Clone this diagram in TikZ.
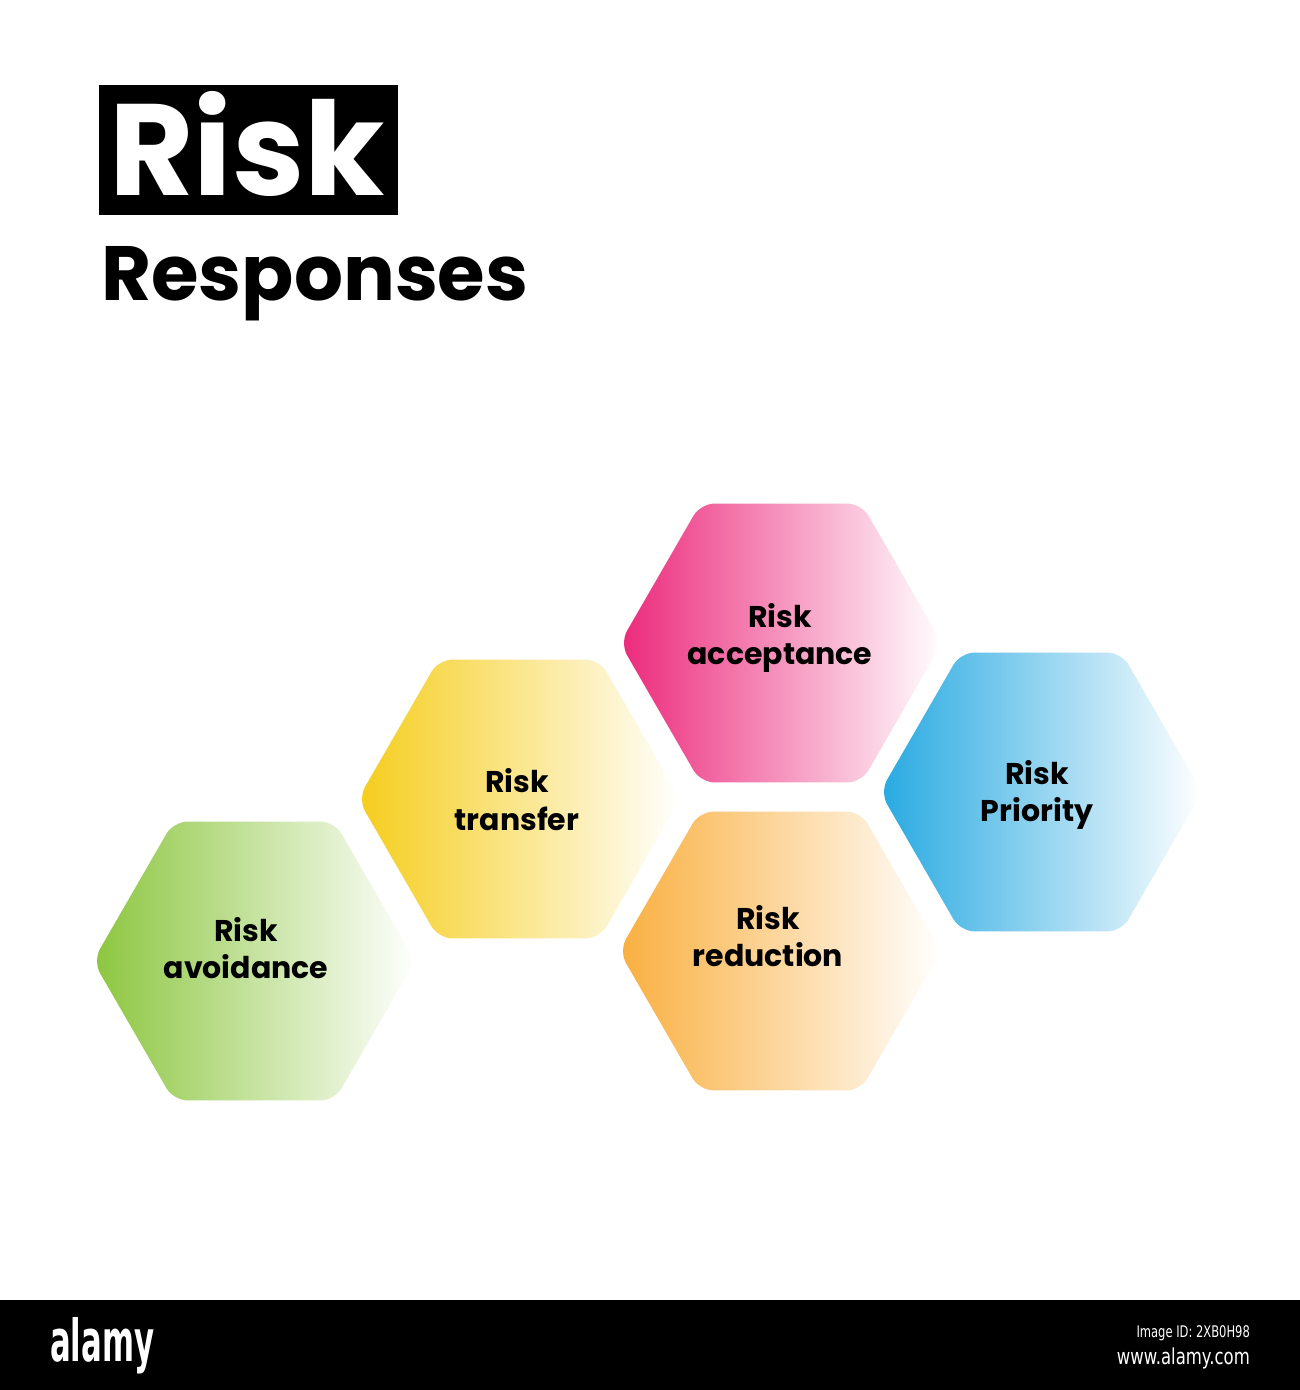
\documentclass[tikz,border=0pt]{standalone}
\usepackage{fontspec}
\setmainfont{Poppins}
\newfontfamily\barfont{DejaVu Sans}
\usetikzlibrary{calc}
\definecolor{cgreen}{HTML}{8CC63F}
\definecolor{cyellow}{HTML}{F5CD1C}
\definecolor{cpink}{HTML}{EC297B}
\definecolor{corange}{HTML}{F9AF3F}
\definecolor{cblue}{HTML}{27A9E1}
\tikzset{
  lbl/.style={inner sep=0pt, anchor=base, font=\fontsize{30}{30}\selectfont\bfseries, text=black},
  hexshape/.style={rounded corners=14pt, left color=#1, right color=white},
}
\newcommand\hexcell[3]{%
  \begin{scope}[shift={(#1,#2)}]
    \shade[hexshape=#3] (0:161) -- (60:161) -- (120:161) -- (180:161) -- (240:161) -- (300:161) -- cycle;
  \end{scope}}
\begin{document}
\begin{tikzpicture}[x=1pt,y=-1pt]
\useasboundingbox (0,0) rectangle (1300,1390);
\fill[white] (0,0) rectangle (1300,1390);
% title
\fill[black] (99,85) rectangle (398,215);
\node[inner sep=0pt, anchor=base, text=white, font=\fontsize{130}{130}\selectfont\bfseries] (t1) at (247,195) {Risk};
\node[inner sep=0pt, anchor=base west, font=\fontsize{77}{77}\selectfont\bfseries] (t2) at (101,300) {Responses};
% hexagons
\hexcell{254}{961}{cgreen}
\hexcell{519}{799}{cyellow}
\hexcell{781}{643}{cpink}
\hexcell{780}{951}{corange}
\hexcell{1041}{792}{cblue}
% labels
\node[lbl] (avA) at (246,941) {Risk};
\node[lbl] (avB) at (246,978) {avoidance};
\node[lbl] (trA) at (517,792) {Risk};
\node[lbl] (trB) at (517,830) {transfer};
\node[lbl] (acA) at (780,627) {Risk};
\node[lbl] (acB) at (780,664) {acceptance};
\node[lbl] (reA) at (768,929) {Risk};
\node[lbl] (reB) at (768,966) {reduction};
\node[lbl] (prA) at (1037,784) {Risk};
\node[lbl] (prB) at (1037,821) {Priority};
% bottom bar
\fill[black] (0,1300) rectangle (1300,1390);
\node[inner sep=0pt, anchor=base west, text=white, xscale=0.53, transform shape, font=\barfont\bfseries\fontsize{58}{58}\selectfont] (logo) at (50,1361) {alamy};
\node[inner sep=0pt, anchor=base east, text=white, xscale=0.72, transform shape, font=\barfont\fontsize{16}{16}\selectfont] (imgid) at (1250,1337) {Image ID: 2XB0H98};
\node[inner sep=0pt, anchor=base east, text=white, xscale=0.75, transform shape, font=\barfont\fontsize{22}{22}\selectfont] (url) at (1250,1364) {www.alamy.com};
\end{tikzpicture}
\end{document}
